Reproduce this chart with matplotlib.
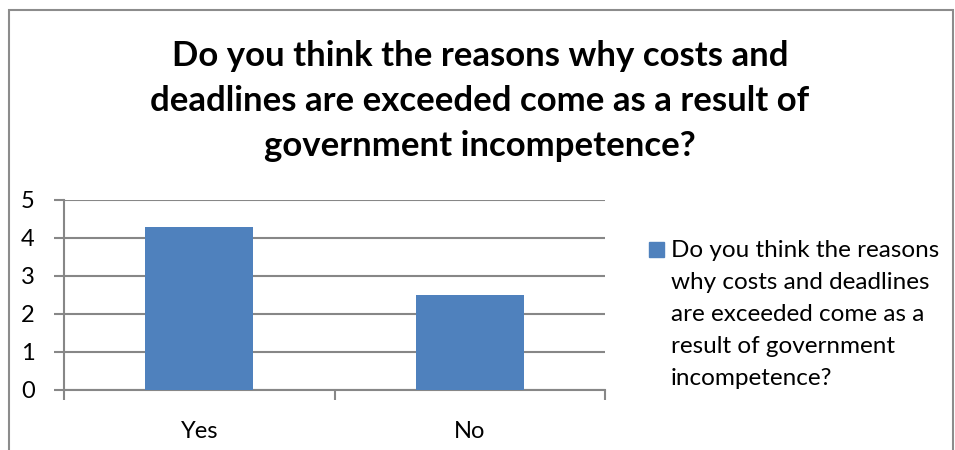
import matplotlib.pyplot as plt
from matplotlib.patches import Rectangle

categories = ["Yes", "No"]
values = [4.3, 2.5]
title = ("Do you think the reasons why costs and\n"
         "deadlines are exceeded come as a result of\n"
         "government incompetence?")
legend_label = ("Do you think the reasons\n"
                "why costs and deadlines\n"
                "are exceeded come as a\n"
                "result of government\n"
                "incompetence?")

bar_color = "#4F81BD"
grid_color = "#878787"
plt.rcParams['font.family'] = ['Lato', 'DejaVu Sans']

W, H = 955, 450
fig = plt.figure(figsize=(W / 100, H / 100), dpi=100)
ax = fig.add_axes([64 / W, 1 - 390 / H, (605 - 64) / W, (390 - 200) / H])

x = list(range(len(categories)))
ax.bar(x, values, width=0.4, color=bar_color, zorder=3)
ax.set_xlim(-0.5, len(categories) - 0.5)
ax.set_ylim(0, 5)
ax.set_yticks(range(6))
ax.yaxis.grid(True, color=grid_color, linewidth=1.5, zorder=0)

# category labels, with boundary ticks drawn as minor ticks
ax.set_xticks(x)
ax.set_xticklabels(categories)
ax.set_xticks([i - 0.5 for i in range(len(categories) + 1)], minor=True)
ax.tick_params(axis='x', which='major', length=0, pad=22, labelsize=17)
ax.tick_params(axis='x', which='minor', length=7, width=1.5, color=grid_color)
ax.tick_params(axis='y', length=7, width=1.5, color=grid_color, labelsize=17, pad=14)

for side in ['top', 'right']:
    ax.spines[side].set_visible(False)
for side in ['left', 'bottom']:
    ax.spines[side].set_color(grid_color)
    ax.spines[side].set_linewidth(1.5)

fig.text(480 / W, 1 - 101 / H, title, ha='center', va='center',
         fontsize=25, fontweight='bold', linespacing=1.5)

# legend key and wrapped label
fig.patches.append(Rectangle((649 / W, 1 - 257 / H), 15 / W, 15 / H,
                             transform=fig.transFigure, color=bar_color))
fig.text(671 / W, 1 - 240 / H, legend_label, ha='left', va='top',
         fontsize=17.5, linespacing=1.64)

# chart frame
fig.patches.append(Rectangle((9 / W, -0.1), (953 - 9) / W, 1 - 10 / H + 0.1,
                             transform=fig.transFigure, fill=False,
                             edgecolor='#8c8c8c', linewidth=1.5))

fig.savefig("out.png", dpi=100)
